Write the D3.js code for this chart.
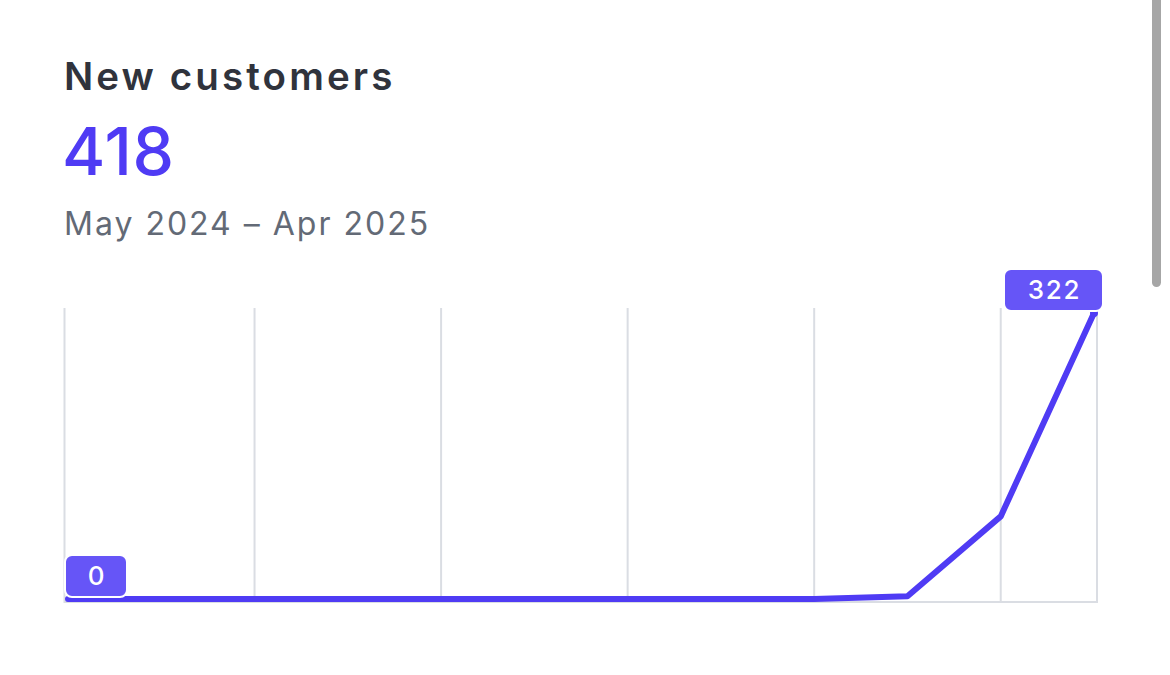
<!DOCTYPE html>
<html>
<head>
<meta charset="utf-8">
<script src="https://cdn.jsdelivr.net/npm/d3@7"></script>
<style>
  html, body { margin: 0; padding: 0; background: #fff; overflow: hidden; }
  body { font-family: Inter, "Noto Sans", sans-serif; }
</style>
</head>
<body>
<div id="chart"></div>
<script>
// data
const months = ["May 2024", "Jun 2024", "Jul 2024", "Aug 2024", "Sep 2024", "Oct 2024",
                "Nov 2024", "Dec 2024", "Jan 2025", "Feb 2025", "Mar 2025", "Apr 2025"];
const customers = [0, 0, 0, 0, 0, 0, 0, 0, 0, 3, 93, 322];
const title = "New customers";
const total = "418";
const period = "May 2024 – Apr 2025";

const W = 1170, H = 675;
const purple = "#4f3bf4";
const labelFill = "#6655f7";

const svg = d3.select("#chart").append("svg")
    .attr("width", W)
    .attr("height", H);

// header texts
svg.append("text")
    .attr("x", 64).attr("y", 90)
    .attr("fill", "#30333c")
    .attr("font-size", 38.5)
    .attr("font-weight", 600)
    .attr("letter-spacing", 3.1)
    .text(title);

svg.append("text")
    .attr("x", 62).attr("y", 175)
    .attr("fill", purple)
    .attr("font-size", 66)
    .attr("font-weight", 500)
    .attr("letter-spacing", 0.8)
    .text(total);

svg.append("text")
    .attr("x", 64).attr("y", 235)
    .attr("fill", "#636a76")
    .attr("font-size", 32)
    .attr("letter-spacing", 2)
    .text(period);

// plot area
const plot = {left: 64.5, right: 1097, top: 308, bottom: 603};

const x = d3.scalePoint()
    .domain(months)
    .range([68, 1094]);

const y = d3.scaleLinear()
    .domain([0, d3.max(customers)])
    .range([599, 313]);

const g = svg.append("g");

// vertical grid lines, every other month plus the right edge
const gridX = months.filter((m, i) => i % 2 === 0).map(m => x(m));
gridX[0] = plot.left;
gridX.push(plot.right);

g.selectAll(".grid")
    .data(gridX)
    .join("line")
    .attr("class", "grid")
    .attr("x1", d => d).attr("x2", d => d)
    .attr("y1", plot.top).attr("y2", plot.bottom)
    .attr("stroke", "#dadde3")
    .attr("stroke-width", 2);

g.append("line")
    .attr("x1", plot.left).attr("x2", plot.right)
    .attr("y1", plot.bottom - 1).attr("y2", plot.bottom - 1)
    .attr("stroke", "#dadde3")
    .attr("stroke-width", 2);

const line = d3.line()
    .x((d, i) => x(months[i]))
    .y(d => y(d));

g.append("path")
    .datum(customers)
    .attr("d", line)
    .attr("fill", "none")
    .attr("stroke", purple)
    .attr("stroke-width", 6)
    .attr("stroke-linejoin", "round")
    .attr("stroke-linecap", "round");

// end point dot
const last = customers.length - 1;
g.append("circle")
    .attr("cx", x(months[last]))
    .attr("cy", y(customers[last]))
    .attr("r", 4)
    .attr("fill", purple);

// value badges at first and last point
const badges = [
    {i: 0, w: 62, align: "left"},
    {i: last, w: 99, align: "right"}
];

badges.forEach(b => {
    const px = x(months[b.i]), py = y(customers[b.i]);
    const bx = b.align === "left" ? px - 3 : px + 9 - b.w;
    const by = py - 2 - 42;
    const bg = g.append("g").attr("transform", `translate(${bx},${by})`);
    bg.append("rect")
        .attr("width", b.w).attr("height", 42)
        .attr("rx", 7)
        .attr("fill", labelFill)
        .attr("stroke", "#fff")
        .attr("stroke-width", 2);
    bg.append("text")
        .attr("x", b.w / 2 + 1).attr("y", 30)
        .attr("text-anchor", "middle")
        .attr("fill", "#fff")
        .attr("font-size", 26)
        .attr("font-weight", 500)
        .attr("letter-spacing", 1.8)
        .text(customers[b.i]);
});

// page scrollbar at the right edge
svg.append("rect")
    .attr("x", 1152).attr("y", -10)
    .attr("width", 9).attr("height", 297)
    .attr("rx", 4.5)
    .attr("fill", "#a6a6a6");
</script>
</body>
</html>
